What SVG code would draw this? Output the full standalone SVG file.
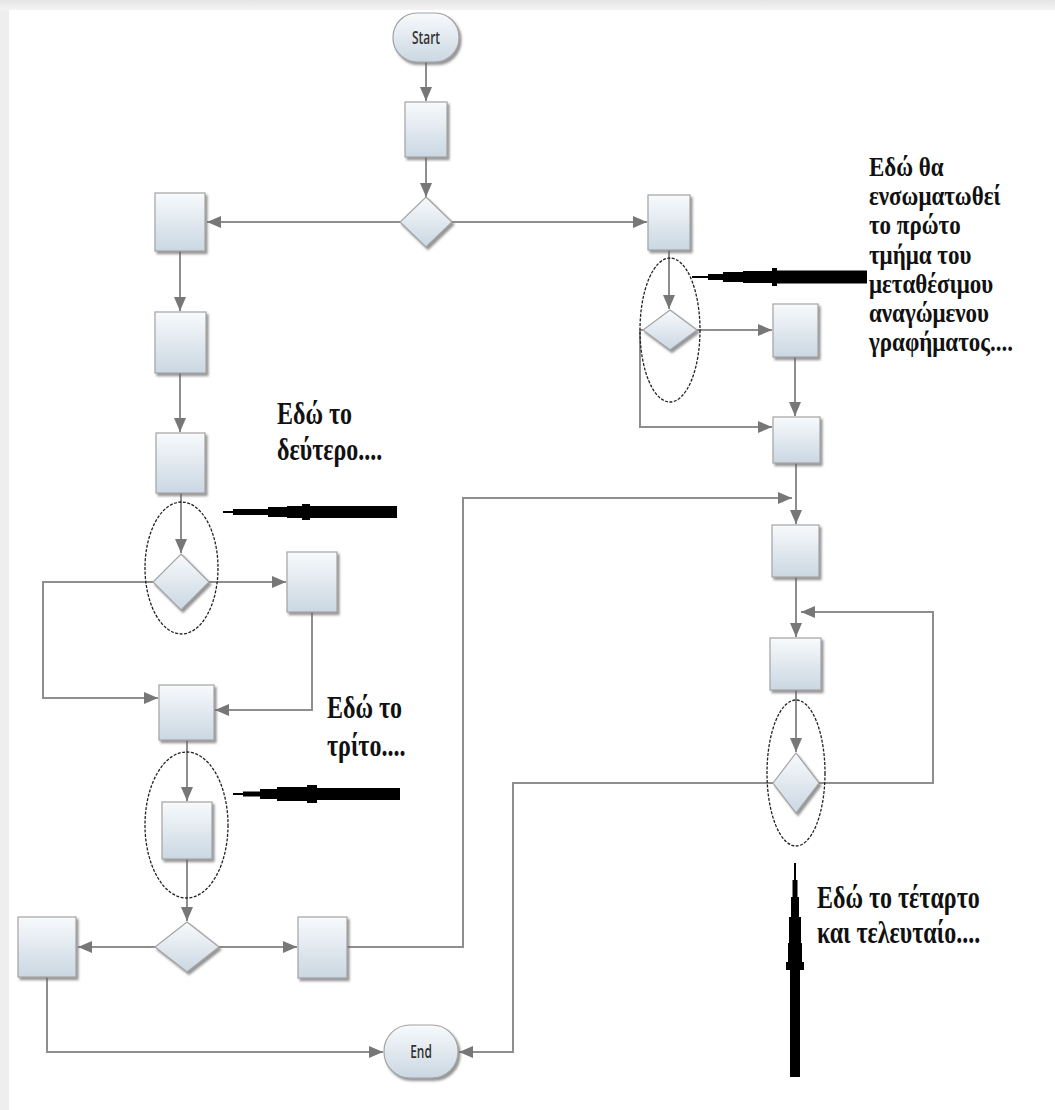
<svg xmlns="http://www.w3.org/2000/svg" width="1055" height="1110" viewBox="0 0 1055 1110">
<defs>
<linearGradient id="g" x1="0" y1="0" x2="0" y2="1">
<stop offset="0" stop-color="#f8fafc"/><stop offset="1" stop-color="#cad7e2"/>
</linearGradient>
<linearGradient id="bg" x1="0" y1="0" x2="0" y2="1">
<stop offset="0" stop-color="#e4e4e4"/><stop offset="1" stop-color="#f4f4f4"/>
</linearGradient>
<filter id="sh" x="-20%" y="-20%" width="150%" height="150%">
<feDropShadow dx="2" dy="2.5" stdDeviation="1.2" flood-color="#666" flood-opacity="0.7"/>
</filter>
<marker id="ah" viewBox="0 0 14 12" refX="14" refY="6" markerWidth="14" markerHeight="12" markerUnits="userSpaceOnUse" orient="auto">
<path d="M0,0 L14,6 L0,12 z" fill="#777777"/>
</marker>
<style>
.n{fill:url(#g);stroke:#a3a3a3;stroke-width:1.2;filter:url(#sh)}
.c{fill:none;stroke:#8e8e8e;stroke-width:2;marker-end:url(#ah)}
.el{fill:none;stroke:#222;stroke-width:1.3;stroke-dasharray:3 1.5}
.pt{fill:#000}
.lbl{font-family:"Liberation Serif",serif;font-weight:bold;font-size:24px;fill:#111}
.rt{font-family:"Liberation Serif",serif;font-weight:bold;font-size:23px;fill:#111}
.tt{font-family:"Open Sans","Liberation Sans",sans-serif;font-weight:600;font-size:14px;fill:#333;text-anchor:middle}
</style>
</defs>
<rect x="0" y="0" width="1055" height="1110" fill="#eeeeee"/>
<rect x="0" y="0" width="1055" height="10" fill="url(#bg)"/>
<rect x="9" y="10" width="1046" height="1100" fill="#ffffff"/>

<g id="connectors">
<path class="c" d="M426,62 V101"/>
<path class="c" d="M426,157 V197"/>
<path class="c" d="M400,222 H207"/>
<path class="c" d="M452,222 H647"/>
<path class="c" d="M180,251 V311"/>
<path class="c" d="M180,373 V432"/>
<path class="c" d="M181,493 V553"/>
<path class="c" d="M209,582 H286"/>
<path class="c" d="M153,582 H43 V698 H158"/>
<path class="c" d="M312,612 V710 H215"/>
<path class="c" d="M187,740 V801"/>
<path class="c" d="M187,859 V921"/>
<path class="c" d="M155,947 H78"/>
<path class="c" d="M219,947 H297"/>
<path class="c" d="M347,947 H463 V498 H792"/>
<path class="c" d="M47,977 V1052 H383"/>
<path class="c" d="M669,250 V309"/>
<path class="c" d="M697,330 H772"/>
<path class="c" d="M643,330 H640 V427 H772"/>
<path class="c" d="M795,357 V416"/>
<path class="c" d="M796,463 V524"/>
<path class="c" d="M796,577 V637"/>
<path class="c" d="M796,690 V752"/>
<path class="c" d="M819,783 H933 V612 H801"/>
<path class="c" d="M773,783 H513 V1052 H459"/>
</g>

<g id="start"><rect class="n" x="393" y="13" width="66" height="49" rx="24" ry="24"/><text class="tt" transform="translate(426,44) scale(0.85,1.3)">Start</text></g>
<g id="end"><rect class="n" x="384" y="1025" width="74" height="53" rx="26" ry="26"/><text class="tt" transform="translate(421,1058) scale(0.85,1.3)">End</text></g>

<g id="r1"><rect class="n" x="405" y="102" width="42" height="55"/></g>
<g id="d1"><polygon class="n" points="426,197 452,222 426,247 400,222"/></g>
<g id="l1"><rect class="n" x="155" y="193" width="50" height="58"/></g>
<g id="r2"><rect class="n" x="648" y="195" width="42" height="55"/></g>
<g id="l2"><rect class="n" x="155" y="312" width="51" height="61"/></g>
<g id="l3"><rect class="n" x="156" y="433" width="49" height="60"/></g>
<g id="d2"><polygon class="n" points="181,554 209,582 181,610 153,582"/></g>
<g id="ra"><rect class="n" x="287" y="552" width="50" height="60"/></g>
<g id="m"><rect class="n" x="159" y="685" width="55" height="55"/></g>
<g id="re"><rect class="n" x="162" y="802" width="50" height="57"/></g>
<g id="d3"><polygon class="n" points="187,922 219,947 187,972 155,947"/></g>
<g id="ll"><rect class="n" x="18" y="917" width="58" height="60"/></g>
<g id="rr"><rect class="n" x="298" y="917" width="49" height="61"/></g>
<g id="d4"><polygon class="n" points="670,310 697,330 670,350 643,330"/></g>
<g id="c1"><rect class="n" x="773" y="304" width="45" height="53"/></g>
<g id="c2"><rect class="n" x="773" y="417" width="47" height="46"/></g>
<g id="a1"><rect class="n" x="772" y="525" width="47" height="52"/></g>
<g id="b1"><rect class="n" x="770" y="638" width="51" height="52"/></g>
<g id="d5"><polygon class="n" points="796,753 819,783 796,813 773,783"/></g>

<g id="ellipses">
<ellipse class="el" cx="670" cy="330" rx="30" ry="72"/>
<ellipse class="el" cx="181.5" cy="568" rx="36.5" ry="66"/>
<ellipse class="el" cx="186.5" cy="825" rx="41.5" ry="73"/>
<ellipse class="el" cx="796" cy="773" rx="29" ry="73"/>
</g>

<g id="pointers">
<polygon class="pt" points="692,276 708,276 708,274 723,274 723,272 743,272 743,271 772,271 772,268 777,268 777,270.5 867,270.5 867,283.5 777,283.5 777,286 772,286 772,283 743,283 743,282 723,282 723,280 708,280 708,278 692,278"/>
<polygon class="pt" points="223,511 233,511 233,509 268,509 268,507 287,507 287,506 302,506 302,504 310,504 310,506 397,506 397,518 310,518 310,520 302,520 302,518 287,518 287,517 268,517 268,515 233,515 233,513 223,513"/>
<polygon class="pt" points="233,793 243,793 243,791.5 260,791.5 260,789 277,789 277,787 307,787 307,785 317,785 317,788 400,788 400,800 317,800 317,803 307,803 307,801 277,801 277,799 260,799 260,796.5 243,796.5 243,795 233,795"/>
<polygon class="pt" points="794,863 796,863 796,880 797.5,880 797.5,897 799,897 799,917 801,917 801,943 802,943 802,962 804,962 804,970 800,970 800,1077 790,1077 790,970 786,970 786,962 788,962 788,943 789,943 789,917 791,917 791,897 792.5,897 792.5,880 794,880"/>
</g>

<g id="texts">
<text class="rt" transform="translate(869,176) scale(1,1.2)">Εδώ θα</text>
<text class="rt" transform="translate(869,205) scale(1,1.2)">ενσωματωθεί</text>
<text class="rt" transform="translate(869,234) scale(1,1.2)">το πρώτο</text>
<text class="rt" transform="translate(869,264) scale(1,1.2)">τμήμα του</text>
<text class="rt" transform="translate(869,293) scale(1,1.2)">μεταθέσιμου</text>
<text class="rt" transform="translate(869,322) scale(1,1.2)">αναγώμενου</text>
<text class="rt" transform="translate(869,351) scale(1,1.2)">γραφήματος....</text>
<text class="lbl" transform="translate(277,424) scale(1,1.3)">Εδώ το</text>
<text class="lbl" transform="translate(277,460) scale(1,1.3)">δεύτερο....</text>
<text class="lbl" transform="translate(327,718) scale(1,1.3)">Εδώ το</text>
<text class="lbl" transform="translate(327,756) scale(1,1.3)">τρίτο....</text>
<text class="lbl" transform="translate(817,908) scale(1,1.3)">Εδώ το τέταρτο</text>
<text class="lbl" transform="translate(817,943) scale(1,1.3)">και τελευταίο....</text>
</g>
</svg>
